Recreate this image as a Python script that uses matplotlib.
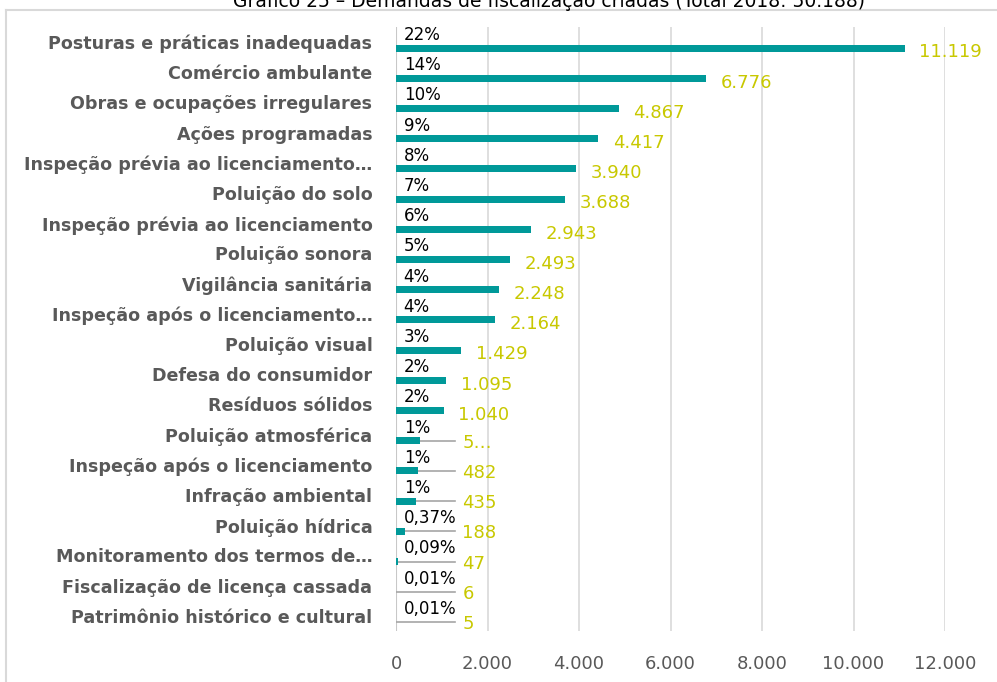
import matplotlib
matplotlib.use("Agg")
import matplotlib.pyplot as plt
import numpy as np
from matplotlib.lines import Line2D

categorias = [
    "Posturas e práticas inadequadas",
    "Comércio ambulante",
    "Obras e ocupações irregulares",
    "Ações programadas",
    "Inspeção prévia ao licenciamento…",
    "Poluição do solo",
    "Inspeção prévia ao licenciamento",
    "Poluição sonora",
    "Vigilância sanitária",
    "Inspeção após o licenciamento…",
    "Poluição visual",
    "Defesa do consumidor",
    "Resíduos sólidos",
    "Poluição atmosférica",
    "Inspeção após o licenciamento",
    "Infração ambiental",
    "Poluição hídrica",
    "Monitoramento dos termos de…",
    "Fiscalização de licença cassada",
    "Patrimônio histórico e cultural",
]
valores = [11119, 6776, 4867, 4417, 3940, 3688, 2943, 2493, 2248, 2164,
           1429, 1095, 1040, 520, 482, 435, 188, 47, 6, 5]
rotulos_valor = ["11.119", "6.776", "4.867", "4.417", "3.940", "3.688", "2.943",
                 "2.493", "2.248", "2.164", "1.429", "1.095", "1.040", "5…",
                 "482", "435", "188", "47", "6", "5"]
percentuais = ["22%", "14%", "10%", "9%", "8%", "7%", "6%", "5%", "4%", "4%",
               "3%", "2%", "2%", "1%", "1%", "1%", "0,37%", "0,09%", "0,01%", "0,01%"]
xticks = [0, 2000, 4000, 6000, 8000, 10000, 12000]
xtick_labels = ["0", "2.000", "4.000", "6.000", "8.000", "10.000", "12.000"]
titulo = "Gráfico 25 – Demandas de fiscalização criadas (Total 2018: 50.188)"

TEAL = "#009999"
AMARELO = "#C8C800"
CINZA = "#595959"

fig = plt.figure(figsize=(9.97, 6.82), dpi=100)
ax = fig.add_axes([396 / 997, 1 - 631 / 682, 549 / 997, 604 / 682])

pos = np.arange(len(categorias))
barra_y = pos + 0.2
ax.barh(barra_y, valores, height=0.23, color=TEAL, zorder=3)

ax.set_xlim(0, 12000)
ax.set_ylim(len(categorias) - 0.5, -0.5)
ax.set_xticks(xticks)
ax.set_xticklabels(xtick_labels, color=CINZA, fontsize=13)
ax.set_yticks(pos)
ax.set_yticklabels(categorias, color=CINZA, fontsize=12.6, fontweight="bold")
ax.tick_params(axis="x", length=0, pad=17)
ax.tick_params(axis="y", length=0, pad=17)
ax.grid(axis="x", color="#D9D9D9", linewidth=1.2, zorder=0)
for s in ax.spines.values():
    s.set_visible(False)
ax.axvline(0, color="#C8C8C8", linewidth=1.5, zorder=2)

for y, v, rv, pc in zip(barra_y, valores, rotulos_valor, percentuais):
    ax.annotate(pc, (0, y), xytext=(5.5, 9.5), textcoords="offset points",
                ha="left", va="center", fontsize=12, color="black", zorder=4)
    if v >= 1000:
        ax.annotate(rv, (v, y), xytext=(10.5, -3), textcoords="offset points",
                    ha="left", va="center", fontsize=13, color=AMARELO, zorder=4)
    else:
        ax.plot([v, 1300], [y, y], color="#A6A6A6", linewidth=1.2, zorder=2)
        ax.annotate(rv, (1450, y), xytext=(0, -1.5), textcoords="offset points",
                    ha="left", va="center", fontsize=13, color=AMARELO, zorder=4)

# borda do gráfico (recortada)
fig.add_artist(Line2D([5.5 / 997, 5.5 / 997], [0, 1 - 9.5 / 682],
                      color="#D9D9D9", linewidth=1.5))
fig.add_artist(Line2D([5.5 / 997, 1], [1 - 9.5 / 682, 1 - 9.5 / 682],
                      color="#D9D9D9", linewidth=1.5))
fig.text(549 / 997, 1 - 7 / 682, titulo, ha="center", va="baseline",
         fontsize=13.5, color="black")

fig.savefig("out.png", dpi=100)
